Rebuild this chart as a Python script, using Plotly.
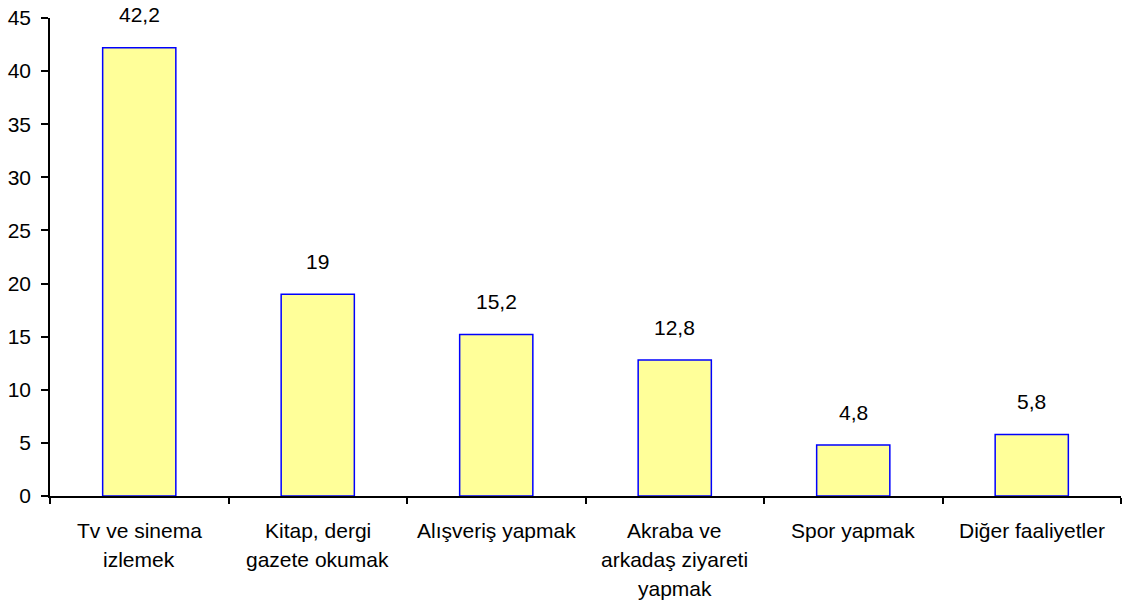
import plotly.graph_objects as go

# Leisure activities (percent)
categories = [
    "Tv ve sinema<br>izlemek",
    "Kitap, dergi<br>gazete okumak",
    "Alışveriş yapmak",
    "Akraba ve<br>arkadaş ziyareti<br>yapmak",
    "Spor yapmak",
    "Diğer faaliyetler",
]
values = [42.2, 19, 15.2, 12.8, 4.8, 5.8]
value_labels = ["42,2", "19", "15,2", "12,8", "4,8", "5,8"]
y_ticks = [0, 5, 10, 15, 20, 25, 30, 35, 40, 45]

FONT = "Liberation Sans, Arial, sans-serif"
FS = 21

fig = go.Figure()
fig.add_trace(go.Bar(
    x=categories,
    y=values,
    marker=dict(color="#FFFF99", line=dict(color="#0000FF", width=1.5)),
    hoverinfo="skip",
))

annotations = []
# value labels above bars
for c, v, t in zip(categories, values, value_labels):
    annotations.append(dict(
        x=c, y=v, xref="x", yref="y", text=t, showarrow=False,
        yanchor="middle", yshift=33,
        font=dict(family=FONT, size=FS, color="black"),
    ))
# category labels, one annotation per line for wider line spacing
for c in categories:
    for i, line in enumerate(c.split("<br>")):
        annotations.append(dict(
            x=c, y=0, xref="x", yref="paper", text=line, showarrow=False,
            yanchor="middle", yshift=-34 - 29 * i,
            font=dict(family=FONT, size=FS, color="black"),
        ))

fig.update_layout(
    width=1122, height=605,
    margin=dict(l=50, r=1, t=18, b=109),
    paper_bgcolor="white", plot_bgcolor="white",
    bargap=0.59,
    showlegend=False,
    font=dict(family=FONT, size=FS, color="black"),
    annotations=annotations,
    xaxis=dict(
        type="category", range=[-0.5, 5.5],
        showticklabels=False,
        ticks="outside", tickson="boundaries", ticklen=6, tickcolor="black", tickwidth=1.5,
        showline=True, linecolor="black", linewidth=1.5,
        showgrid=False, zeroline=False,
    ),
    yaxis=dict(
        range=[0, 45], tickvals=y_ticks,
        ticks="outside", ticklen=7, tickcolor="black", tickwidth=1.5,
        ticklabelstandoff=6,
        showline=True, linecolor="black", linewidth=1.5,
        showgrid=False, zeroline=False,
        tickfont=dict(family=FONT, size=FS, color="black"),
    ),
)

fig.write_html("out.html")
